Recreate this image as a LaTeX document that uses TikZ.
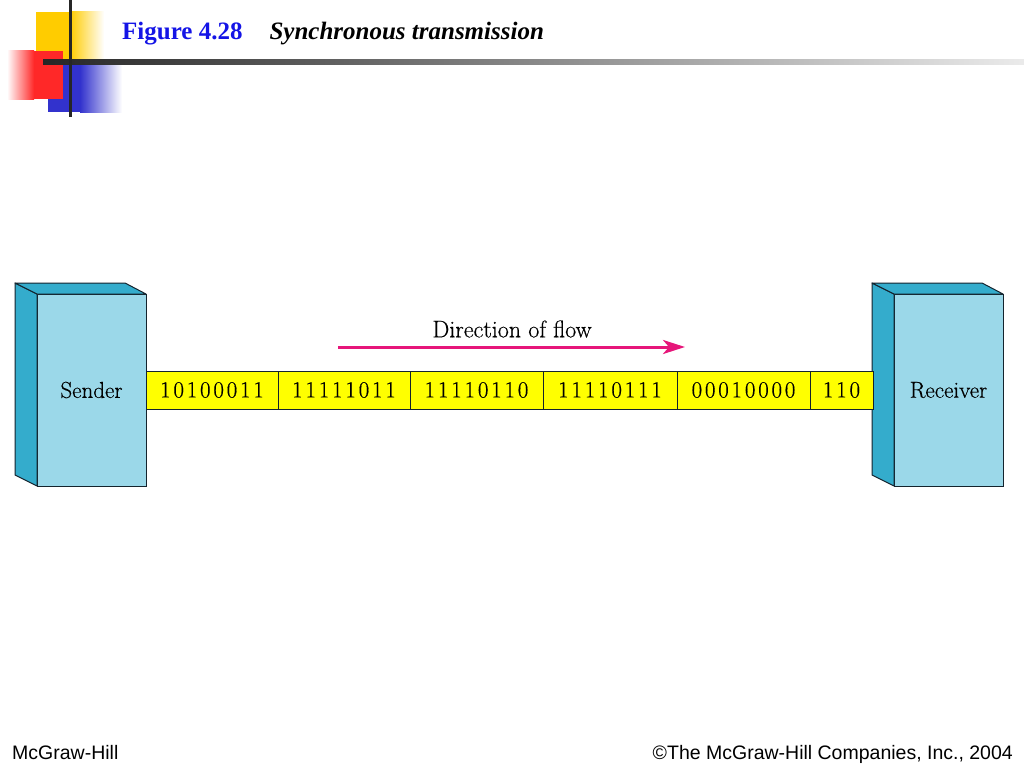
\documentclass[tikz,border=0pt]{standalone}
\usepackage{fontspec}
\usepackage{xcolor}
\usepackage{tikz}
\usetikzlibrary{positioning,arrows.meta}
\newfontfamily\titlefont{Liberation Serif}
\newfontfamily\footfont{Liberation Sans}
\newfontfamily\labelfont[FakeBold=0.4]{Latin Modern Roman}
\newfontfamily\bitfont[LetterSpace=12,FakeBold=0.4]{Latin Modern Roman}
\definecolor{frontblue}{RGB}{155,216,233}
\definecolor{sideblue}{RGB}{52,172,204}
\definecolor{edgegray}{RGB}{20,35,45}
\definecolor{bityellow}{RGB}{255,255,0}
\definecolor{flowpink}{RGB}{230,22,122}
\definecolor{figblue}{RGB}{20,20,230}
\definecolor{decoyellow}{RGB}{255,204,0}
\definecolor{decored}{RGB}{255,40,40}
\definecolor{decoblue}{RGB}{50,50,205}

\begin{document}
\begin{tikzpicture}[x=1pt,y=-1pt,
    station/.style={draw=edgegray,line width=1pt,fill=frontblue,minimum width=109pt,minimum height=192pt,inner sep=0pt,outer sep=0pt,font=\labelfont\fontsize{23}{26}\selectfont},
    face/.style={draw=edgegray,line width=1pt,fill=sideblue,line join=round},
    cell/.style={draw=edgegray,line width=0.8pt,fill=bityellow,minimum height=38pt,inner sep=0pt,outer sep=0pt,font=\bitfont\fontsize{23}{26}\selectfont}]
    \useasboundingbox (0,0) rectangle (1024,768);
    % title decoration
    \fill[decoyellow] (36,12) rectangle (70,60);
    \shade[left color=decoyellow,right color=white] (70,12) rectangle (104,60);
    \fill[decoblue] (48,63) rectangle (80,112);
    \shade[left color=decoblue,right color=white] (80,63) rectangle (122,112);
    \fill[decored] (34,51) rectangle (63,99);
    \shade[left color=white,right color=decored] (7,51) rectangle (34,99);
    \shade[left color=black!85,right color=black!8] (43,59.5) rectangle (1024,64);
    \fill[black!85] (68.5,0) rectangle (72,117);
    \node[anchor=base west,inner sep=0pt,font=\titlefont\bfseries\fontsize{25}{30}\selectfont] (title) at (122,40)
        {\textcolor{figblue}{Figure 4.28}\hspace{27pt}\itshape Synchronous transmission};
    % stations
    \node[station] (sender) at (91.5,390) {Sender};
    \node[station] (receiver) at (948.5,390) {Receiver};
    \draw[face] (sender.north west) -- ++(-22,-11) -- ++(0,192) -- (sender.south west) -- cycle;
    \draw[face] (sender.north west) -- ++(-22,-11) -- ++(110,0) -- (sender.north east) -- cycle;
    \draw[face] (receiver.north west) -- ++(-22,-11) -- ++(0,192) -- (receiver.south west) -- cycle;
    \draw[face] (receiver.north west) -- ++(-22,-11) -- ++(110,0) -- (receiver.north east) -- cycle;
    % frames
    \node[cell,minimum width=132pt,anchor=west] (b1) at (sender.east) {10100011};
    \node[cell,minimum width=132pt,right=0pt of b1] (b2) {11111011};
    \node[cell,minimum width=133pt,right=0pt of b2] (b3) {11110110};
    \node[cell,minimum width=134pt,right=0pt of b3] (b4) {11110111};
    \node[cell,minimum width=133pt,right=0pt of b4] (b5) {00010000};
    \node[cell,minimum width=63pt,right=0pt of b5] (b6) {110};
    % direction
    \coordinate (flowstart) at (338,347);
    \coordinate (flowend) at (685,347);
    \draw[flowpink,line width=3pt,-{Stealth[length=22pt,width=14pt,inset=6pt]}] (flowstart) -- (flowend);
    \node[font=\labelfont\fontsize{24}{27}\selectfont] (flowlabel) at (512,329) {Direction of flow};
    % footer
    \node[anchor=base west,inner sep=0pt,font=\footfont\fontsize{19.5}{22}\selectfont] (publisher) at (12,759) {McGraw-Hill};
    \node[anchor=base east,inner sep=0pt,font=\footfont\fontsize{19.5}{22}\selectfont] (copyright) at (1013,759) {©The McGraw-Hill Companies, Inc., 2004};
\end{tikzpicture}
\end{document}
